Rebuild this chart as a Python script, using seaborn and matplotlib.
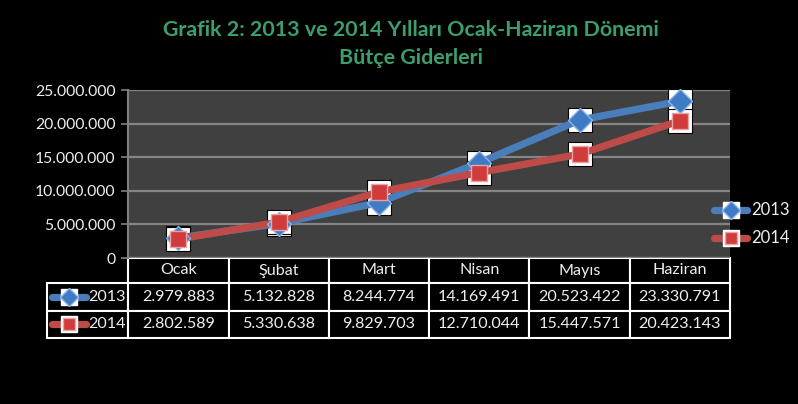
import matplotlib
matplotlib.use("Agg")
import matplotlib.pyplot as plt
import seaborn as sns
import pandas as pd
from matplotlib.lines import Line2D
from matplotlib.ticker import FuncFormatter, MultipleLocator

months = ["Ocak", "Şubat", "Mart", "Nisan", "Mayıs", "Haziran"]
values_2013 = [2979883, 5132828, 8244774, 14169491, 20523422, 23330791]
values_2014 = [2802589, 5330638, 9829703, 12710044, 15447571, 20423143]
series = ["2013", "2014"]

title = "Grafik 2: 2013 ve 2014 Yılları Ocak-Haziran Dönemi\nBütçe Giderleri"

sns.set_theme(style="dark")
plt.rcParams['font.family'] = ['Lato', 'DejaVu Sans']

colors = {"2013": "#4a7ebb", "2014": "#be4b48"}
mfc = {"2013": "#3f7ac4", "2014": "#d23b3b"}
mec = {"2013": "#8fb4e3", "2014": "#e9a3a3"}
markers = {"2013": "D", "2014": "s"}
msize = {"2013": 12, "2014": 11.5}

df = pd.DataFrame({
    "Ay": months * 2,
    "x": list(range(len(months))) * 2,
    "Değer": values_2013 + values_2014,
    "Yıl": ["2013"] * len(months) + ["2014"] * len(months),
})

W, H = 798, 404
fig = plt.figure(figsize=(W / 100, H / 100), dpi=100, facecolor="black")
ax = fig.add_axes([128 / W, (H - 258) / H, 602 / W, 168 / H])
ax.set_facecolor("#404040")

# white boxes behind markers
ax.scatter(df["x"], df["Değer"], marker="s", s=24 ** 2 * 0.52, color="white",
           edgecolor="black", linewidth=0.8, zorder=2, clip_on=False)

sns.lineplot(data=df, x="x", y="Değer", hue="Yıl", palette=colors, linewidth=5.2,
             ax=ax, legend=False, zorder=3, sort=False)
for yr in series:
    sub = df[df["Yıl"] == yr]
    ax.plot(sub["x"], sub["Değer"], linestyle="none", marker=markers[yr],
            markersize=msize[yr], markerfacecolor=mfc[yr], markeredgecolor=mec[yr],
            markeredgewidth=1.0, zorder=4, clip_on=False)

ax.set_xlim(-0.5, len(months) - 0.5)
ax.set_ylim(0, 25000000)
ax.yaxis.set_major_locator(MultipleLocator(5000000))
ax.yaxis.set_major_formatter(FuncFormatter(lambda v, p: f"{int(v):,}".replace(",", ".")))
ax.grid(axis="y", color="#858585", linewidth=1.6)
ax.grid(axis="x", visible=False)
ax.set_axisbelow(True)
ax.set_xticks([])
ax.set_xlabel("")
ax.set_ylabel("")
ax.tick_params(axis="y", colors="#808080", labelcolor="#eeeeee", labelsize=11.3,
               length=5, width=1.2, direction="out", left=True, pad=4)
for s in ["top", "right", "bottom"]:
    ax.spines[s].set_visible(False)
ax.spines["left"].set_color("#808080")
ax.spines["left"].set_linewidth(1.5)

# data table (first column holds the series labels)
fmt = lambda v: f"{v:,}".replace(",", ".")
cell_text = [[series[0]] + [fmt(v) for v in values_2013],
             [series[1]] + [fmt(v) for v in values_2014]]
lab_w = 81 / 602
tb = ax.table(cellText=cell_text, colLabels=[""] + months, cellLoc="center",
              bbox=[-lab_w, -80 / 168, 1 + lab_w, 80 / 168])
tb.auto_set_font_size(False)
for (r, c), cell in tb.get_celld().items():
    cell.set_facecolor("black")
    cell.set_edgecolor("white")
    cell.set_linewidth(1.5)
    cell.get_text().set_color("#eeeeee")
    cell.get_text().set_fontsize(11.6)
    cell.set_width(81 if c == 0 else 100)
    cell.set_height(25 if r == 0 else 27.5)
    if c == 0:
        cell.get_text().set_ha("right")
        cell.PAD = 0.03
        if r == 0:
            cell.set_linewidth(0)
            cell.set_facecolor("none")

# legend keys inside the table row labels
for yr, ypix in zip(series, [297, 324]):
    y = (H - ypix) / H
    fig.add_artist(Line2D([52 / W, 86 / W], [y, y], color=colors[yr], linewidth=5.2,
                          solid_capstyle="round", transform=fig.transFigure))
    fig.add_artist(Line2D([69 / W], [y], marker="s", markersize=12, color="white",
                          linestyle="none", transform=fig.transFigure))
    fig.add_artist(Line2D([69 / W], [y], marker=markers[yr], markersize=msize[yr] * 0.8,
                          markerfacecolor=mfc[yr], markeredgecolor=mec[yr],
                          linestyle="none", transform=fig.transFigure))

# right legend
for yr, ypix in zip(series, [210, 238]):
    y = (H - ypix) / H
    fig.add_artist(Line2D([714 / W, 747 / W], [y, y], color=colors[yr], linewidth=5.2,
                          solid_capstyle="round", transform=fig.transFigure))
    fig.add_artist(Line2D([731 / W], [y], marker="s", markersize=12, color="white",
                          linestyle="none", transform=fig.transFigure))
    fig.add_artist(Line2D([731 / W], [y], marker=markers[yr], markersize=msize[yr] * 0.8,
                          markerfacecolor=mfc[yr], markeredgecolor=mec[yr],
                          linestyle="none", transform=fig.transFigure))
    fig.text(751 / W, y, yr, color="#eeeeee", fontsize=12, va="center", ha="left")

fig.text(411 / W, (H - 44) / H, title, color="#3b9e6c", fontsize=15.4, fontweight="bold",
         ha="center", va="center", linespacing=1.5)

fig.savefig("out.png", dpi=100, facecolor="black")
